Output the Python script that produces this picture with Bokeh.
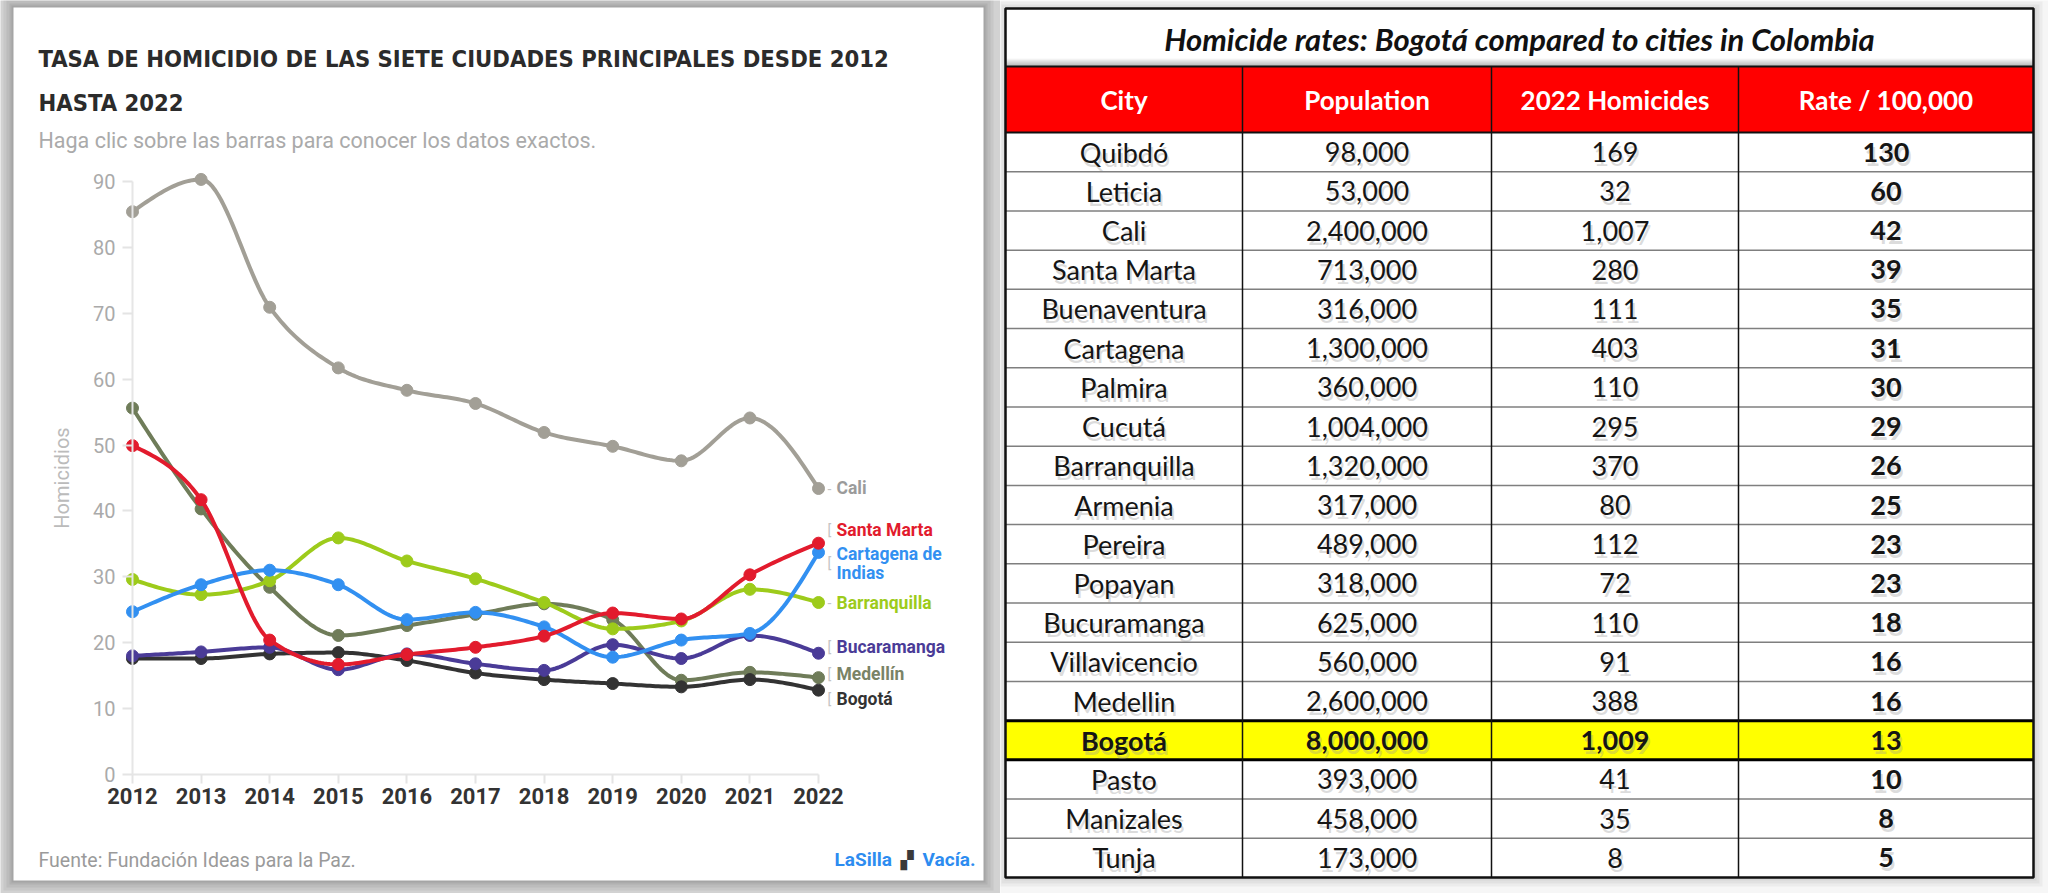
import numpy as np
from bokeh.plotting import figure
from bokeh.models import Range1d, FixedTicker, Label, ColumnDataSource, LinearAxis
from bokeh.layouts import row
from bokeh.core.properties import value
from bokeh.embed import file_html
from bokeh.resources import INLINE

# ---------------- data: line chart ----------------
years = [2012, 2013, 2014, 2015, 2016, 2017, 2018, 2019, 2020, 2021, 2022]
cali = [85.4, 90.3, 70.9, 61.7, 58.3, 56.3, 51.9, 49.8, 47.6, 54.1, 43.4]
medellin = [55.6, 40.3, 28.4, 21.1, 22.6, 24.3, 25.9, 23.5, 14.3, 15.5, 14.7]
santa_marta = [49.9, 41.7, 20.4, 16.7, 18.2, 19.3, 21.0, 24.5, 23.6, 30.3, 35.1]
cartagena = [24.7, 28.8, 31.0, 28.8, 23.5, 24.6, 22.4, 17.8, 20.4, 21.4, 33.7]
barranquilla = [29.6, 27.3, 29.4, 35.9, 32.4, 29.7, 26.1, 22.1, 23.3, 28.1, 26.1]
bucaramanga = [18.0, 18.6, 19.3, 15.9, 18.3, 16.8, 15.8, 19.7, 17.6, 21.1, 18.4]
bogota = [17.6, 17.6, 18.3, 18.5, 17.3, 15.4, 14.4, 13.8, 13.3, 14.4, 12.8]
y_ticks = [0, 10, 20, 30, 40, 50, 60, 70, 80, 90]

series_names = ["Cali", "Medellín", "Barranquilla", "Bogotá", "Bucaramanga",
                "Cartagena de\nIndias", "Santa Marta"]
series_vals = [cali, medellin, barranquilla, bogota, bucaramanga, cartagena, santa_marta]
series_colors = ["#a29f96", "#6f7c59", "#9dcb1b", "#333333", "#4a3b97", "#3290f1", "#e21b2d"]
label_colors = ["#9b9b9b", "#7a8366", "#9dcb1b", "#333333", "#4a3b97", "#3290f1", "#e21b2d"]
label_shift_px = [0, -4, 0, 9, -6, 11, -13]   # label nudges (screen px, + = down)
connectors = ["-", "[", "-", "[", "[", "[", "["]

# ---------------- data: table ----------------
cities = ["Quibdó", "Leticia", "Cali", "Santa Marta", "Buenaventura", "Cartagena",
          "Palmira", "Cucutá", "Barranquilla", "Armenia", "Pereira", "Popayan",
          "Bucuramanga", "Villavicencio", "Medellin", "Bogotá", "Pasto",
          "Manizales", "Tunja"]
population = [98000, 53000, 2400000, 713000, 316000, 1300000, 360000, 1004000,
              1320000, 317000, 489000, 318000, 625000, 560000, 2600000, 8000000,
              393000, 458000, 173000]
homicides_2022 = [169, 32, 1007, 280, 111, 403, 110, 295, 370, 80, 112, 72, 110,
                  91, 388, 1009, 41, 35, 8]
rate_100k = [130, 60, 42, 39, 35, 31, 30, 29, 26, 25, 23, 23, 18, 16, 16, 13, 10, 8, 5]
headers = ["City", "Population", "2022 Homicides", "Rate / 100,000"]
highlight_city = "Bogotá"


def monotone_x(xs, ys, n=24):
    x = np.asarray(xs, float)
    y = np.asarray(ys, float)
    h = np.diff(x)
    s = np.diff(y) / h
    m = np.zeros_like(y)
    for i in range(1, len(x) - 1):
        s0, s1 = s[i - 1], s[i]
        p_ = (s0 * h[i] + s1 * h[i - 1]) / (h[i - 1] + h[i])
        m[i] = (np.sign(s0) + np.sign(s1)) * min(abs(s0), abs(s1), 0.5 * abs(p_))
    m[0] = (3 * s[0] - m[1]) / 2
    m[-1] = (3 * s[-1] - m[-2]) / 2
    ox, oy = [], []
    for i in range(len(x) - 1):
        t_ = np.linspace(0, 1, n, endpoint=(i == len(x) - 2))
        h00 = 2 * t_**3 - 3 * t_**2 + 1
        h10 = t_**3 - 2 * t_**2 + t_
        h01 = -2 * t_**3 + 3 * t_**2
        h11 = t_**3 - t_**2
        ox.extend(x[i] + t_ * h[i])
        oy.extend(h00 * y[i] + h10 * h[i] * m[i] + h01 * y[i + 1] + h11 * h[i] * m[i + 1])
    return ox, oy


# ---------------- left chart geometry (page px) ----------------
LEFT_W, H = 1000, 893
CARD_L, CARD_T, CARD_R, CARD_B = 13, 7, 983, 880
X2012_PX, Y0_PX = 132.0, 774.0
PX_PER_YEAR = 68.6
PX_PER_UNIT = 6.59


def X(px):
    return years[0] + (px - X2012_PX) / PX_PER_YEAR


def Y(py):
    return (Y0_PX - py) / PX_PER_UNIT


p = figure(width=LEFT_W, height=H,
           x_range=Range1d(X(0), X(LEFT_W)), y_range=Range1d(Y(H), Y(0)),
           output_backend="svg", toolbar_location=None, min_border=0,
           x_axis_location=None, y_axis_location=None)
p.background_fill_color = "#d2d2d2"
p.border_fill_color = "#d2d2d2"
p.outline_line_color = None
p.xgrid.visible = False
p.ygrid.visible = False

# card with soft shadow
for k, a in zip([10, 7, 4, 2], [0.15, 0.2, 0.25, 0.35]):
    p.quad(left=X(CARD_L - k), right=X(CARD_R + k), top=Y(CARD_T - k), bottom=Y(CARD_B + k),
           fill_color="#8f8f8f", fill_alpha=a, line_color=None)
p.quad(left=X(CARD_L), right=X(CARD_R), top=Y(CARD_T), bottom=Y(CARD_B),
       fill_color="white", line_color=None)

xaxis = LinearAxis(fixed_location=0, bounds=(years[0], years[-1]),
                   ticker=FixedTicker(ticks=years))
xaxis.axis_line_color = "#e6e6e6"
xaxis.axis_line_width = 2
xaxis.major_tick_line_color = "#e4e4e4"
xaxis.major_tick_line_width = 2
xaxis.major_tick_out = 9
xaxis.major_tick_in = 0
xaxis.minor_tick_line_color = None
xaxis.major_label_standoff = 4
xaxis.major_label_text_font = "Roboto"
xaxis.major_label_text_font_size = "22px"
xaxis.major_label_text_font_style = "bold"
xaxis.major_label_text_color = "#333333"
p.add_layout(xaxis, "below")

yaxis = LinearAxis(fixed_location=years[0], bounds=(y_ticks[0], y_ticks[-1]),
                   ticker=FixedTicker(ticks=y_ticks))
yaxis.axis_line_color = "#e6e6e6"
yaxis.axis_line_width = 2
yaxis.major_tick_line_color = "#e4e4e4"
yaxis.major_tick_line_width = 2
yaxis.major_tick_in = 0
yaxis.major_tick_out = 10
yaxis.minor_tick_line_color = None
yaxis.major_label_standoff = 7
yaxis.major_label_text_font = "Roboto"
yaxis.major_label_text_font_size = "20px"
yaxis.major_label_text_color = "#aaaaaa"
yaxis.axis_label = "Homicidios"
yaxis.axis_label_text_font = "Roboto"
yaxis.axis_label_text_font_size = "20px"
yaxis.axis_label_text_font_style = "normal"
yaxis.axis_label_text_color = "#bbbbbb"
yaxis.axis_label_standoff = 16
p.add_layout(yaxis, "left")

for vals, col in zip(series_vals, series_colors):
    sx, sy = monotone_x(years, vals)
    p.line(sx, sy, line_color=col, line_width=4, line_join="round", line_cap="round")
    p.scatter(years, vals, size=12, fill_color=col, line_color=col)

last_vals = [v[-1] for v in series_vals]
label_y = [lv - d / PX_PER_UNIT for lv, d in zip(last_vals, label_shift_px)]
lab_src = ColumnDataSource(dict(x=[years[-1]] * len(series_names), y=label_y,
                                text=series_names, color=label_colors, conn=connectors))
p.text(x="x", y="y", text="conn", source=lab_src, x_offset=9,
       text_color="#c4c4c4", text_font=value("Roboto"), text_font_size="14px",
       text_baseline="middle", text_align="left")
p.text(x="x", y="y", text="text", source=lab_src, x_offset=18,
       text_color="color", text_font=value("Roboto"), text_font_size="17.5px",
       text_font_style="bold", text_baseline="middle", text_align="left",
       text_line_height=0.92)

title_kw = dict(x_units="data", y_units="data",
                text_font="'DejaVu Sans Condensed', Roboto",
                text_font_style="bold", text_font_size="23.6px", text_color="#2b2b2b",
                text_baseline="alphabetic", text_align="left")
p.add_layout(Label(x=X(38), y=Y(58), text="TASA DE HOMICIDIO DE LAS SIETE CIUDADES PRINCIPALES DESDE 2012", **title_kw))
p.add_layout(Label(x=X(38), y=Y(102), text="HASTA 2022", **title_kw))
p.add_layout(Label(x=X(38), y=Y(140), text="Haga clic sobre las barras para conocer los datos exactos.",
                   text_font="Roboto", text_font_size="21.5px", text_color="#aaaaaa",
                   text_baseline="alphabetic", text_align="left"))
p.add_layout(Label(x=X(38), y=Y(860), text="Fuente: Fundación Ideas para la Paz.",
                   text_font="Roboto", text_font_size="19.5px", text_color="#9a9a9a",
                   text_baseline="alphabetic", text_align="left"))
p.add_layout(Label(x=X(834), y=Y(859), text="LaSilla", text_font="Roboto",
                   text_font_style="bold", text_font_size="19px", text_color="#2d8cf0",
                   text_baseline="alphabetic", text_align="left"))
p.add_layout(Label(x=X(900), y=Y(859), text="▞", text_font="DejaVu Sans",
                   text_font_size="17px", text_color="#3a3a3a",
                   text_baseline="alphabetic", text_align="left"))
p.add_layout(Label(x=X(975), y=Y(859), text="Vacía.", text_font="Roboto",
                   text_font_style="bold", text_font_size="19px", text_color="#2d8cf0",
                   text_baseline="alphabetic", text_align="right"))

# ---------------- right table ----------------
T_L, T_R, T_TOP, T_HEAD, T_BODY, T_BOT = 1005, 2033, 8, 66, 132, 877
col_edges = [1005, 1242, 1491, 1738, 2033]
n_rows = len(cities)
row_h = (T_BOT - T_BODY) / n_rows
RX0 = LEFT_W

t = figure(width=2048 - RX0, height=H, x_range=Range1d(RX0, 2048),
           y_range=Range1d(H, 0), output_backend="svg", toolbar_location=None,
           min_border=0, x_axis_location=None, y_axis_location=None)
t.grid.visible = False
t.outline_line_color = None
t.background_fill_color = "#f6f6f6"
t.border_fill_color = "#f6f6f6"

for k, a in zip([9, 6, 3], [0.25, 0.35, 0.5]):
    t.quad(left=T_L - k + 2, right=T_R + k, top=T_TOP - k + 2, bottom=T_BOT + k,
           fill_color="#cfcfcf", fill_alpha=a, line_color=None)
t.quad(left=T_L, right=T_R, top=T_TOP, bottom=T_BOT, fill_color="white", line_color=None)
for k in range(8):
    t.quad(left=T_L, right=T_R, top=T_HEAD - 8 + k, bottom=T_HEAD - 7 + k,
           fill_color="#6a6a6a", fill_alpha=0.06 + 0.07 * k, line_color=None)
t.quad(left=T_L, right=T_R, top=T_HEAD, bottom=T_BODY, fill_color="#ff0000", line_color=None)

hi = cities.index(highlight_city)
t.quad(left=T_L, right=T_R, top=T_BODY + hi * row_h, bottom=T_BODY + (hi + 1) * row_h,
       fill_color="#ffff00", line_color=None)

sep_y = [T_BODY + i * row_h for i in range(1, n_rows)]
sep_col = ["#000000" if i in (hi, hi + 1) else "#7f7f7f" for i in range(1, n_rows)]
sep_w = [3 if i in (hi, hi + 1) else 1.5 for i in range(1, n_rows)]
t.segment(x0=[T_L] * len(sep_y), x1=[T_R] * len(sep_y), y0=sep_y, y1=sep_y,
          line_color=sep_col, line_width=sep_w)
t.segment(x0=col_edges[1:-1], x1=col_edges[1:-1], y0=[T_HEAD] * 3, y1=[T_BOT] * 3,
          line_color="#111111", line_width=1.5)
t.segment(x0=[T_L, T_L], x1=[T_R, T_R], y0=[T_HEAD, T_BODY], y1=[T_HEAD, T_BODY],
          line_color="#111111", line_width=2)
t.quad(left=T_L, right=T_R, top=T_TOP, bottom=T_BOT, fill_color=None,
       line_color="#111111", line_width=2.5)

centers = [(a + b) / 2 for a, b in zip(col_edges[:-1], col_edges[1:])]
t.text(x=[(T_L + T_R) / 2], y=[(T_TOP + T_HEAD) / 2 + 1],
       text=["Homicide rates: Bogotá compared to cities in Colombia"],
       text_font=value("Lato"), text_font_style="bold italic", text_font_size="31px",
       text_color="#111111", text_align="center", text_baseline="middle")
t.text(x=centers, y=[(T_HEAD + T_BODY) / 2] * 4, text=headers,
       text_font=value("Lato"), text_font_style="bold", text_font_size="26px",
       text_color="white", text_align="center", text_baseline="middle")

cx, cy, ctext, cstyle = [], [], [], []
for i in range(n_rows):
    yc = T_BODY + (i + 0.5) * row_h
    vals = [cities[i], f"{population[i]:,}", f"{homicides_2022[i]:,}", f"{rate_100k[i]}"]
    for j in range(4):
        cx.append(centers[j])
        cy.append(yc)
        ctext.append(vals[j])
        cstyle.append("bold" if (j == 3 or i == hi) else "normal")
cell_src = ColumnDataSource(dict(x=cx, y=cy, text=ctext, style=cstyle))
t.text(x="x", y="y", text="text", source=cell_src, x_offset=2, y_offset=4,
       text_font=value("Lato"), text_font_style="style", text_font_size="27px",
       text_color="#9a9a9a", text_alpha=0.35, text_align="center", text_baseline="middle")
t.text(x="x", y="y", text="text", source=cell_src,
       text_font=value("Lato"), text_font_style="style", text_font_size="27px",
       text_color="#151515", text_align="center", text_baseline="middle")

layout = row(p, t, spacing=0)
open("out.html", "w").write(file_html(layout, INLINE))
